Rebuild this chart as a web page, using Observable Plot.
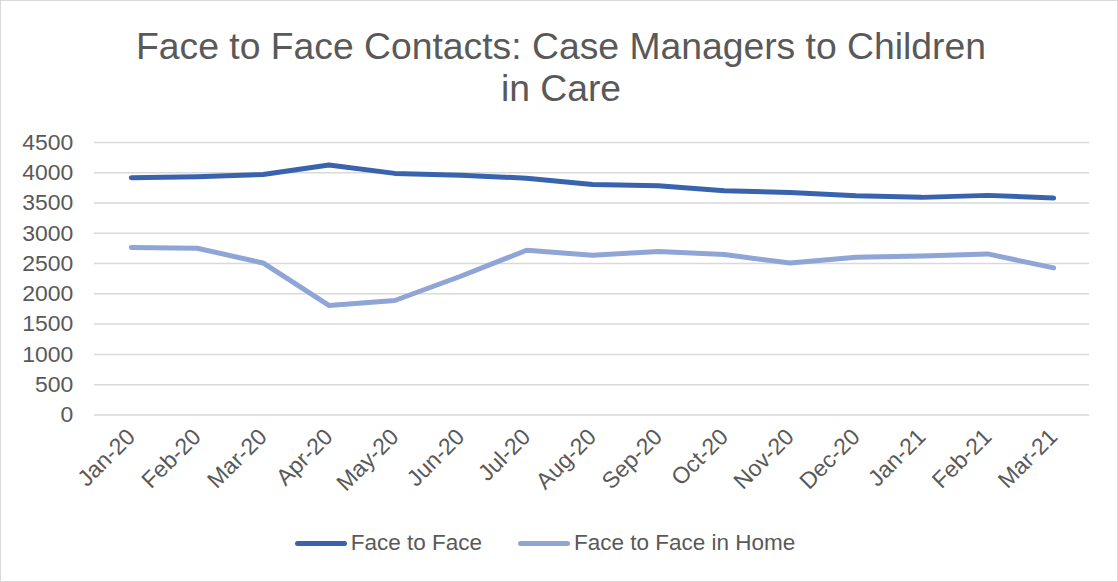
<!DOCTYPE html>
<html>
<head>
<meta charset="utf-8">
<script src="https://cdn.jsdelivr.net/npm/d3@7"></script>
<script src="https://cdn.jsdelivr.net/npm/@observablehq/plot@0.6"></script>
<style>
  html, body { margin: 0; padding: 0; background: #fff; }
  #frame { position: relative; width: 1116px; height: 580px; border: 1px solid #d9d9d9; overflow: hidden; font-family: "Liberation Sans", Arial, sans-serif; color: #595959; }
  #title { position: absolute; left: 0; top: 24px; width: 1120px; text-align: center; font-size: 37.3px; line-height: 42px; }
  #chart { position: absolute; left: 0; top: 110px; }
  #legend { position: absolute; left: 0; top: 529px; width: 1088px; display: flex; justify-content: center; font-size: 22.5px; align-items: center; }
  .item { display: flex; align-items: center; margin: 0 18px; }
  .swatch { width: 52px; height: 5px; border-radius: 3px; margin-right: 4px; }
</style>
</head>
<body>
<div id="frame">
  <div id="title">Face to Face Contacts: Case Managers to Children<br>in Care</div>
  <div id="chart"></div>
  <div id="legend"></div>
</div>
<script>
const months = ["Jan-20","Feb-20","Mar-20","Apr-20","May-20","Jun-20","Jul-20","Aug-20","Sep-20","Oct-20","Nov-20","Dec-20","Jan-21","Feb-21","Mar-21"];
const faceToFace = [3918,3934,3972,4126,3989,3960,3910,3807,3785,3703,3675,3620,3593,3626,3582];
const faceToFaceInHome = [2764,2753,2510,1808,1890,2290,2720,2637,2700,2648,2510,2604,2626,2659,2428];
const seriesNames = ["Face to Face","Face to Face in Home"];
const seriesColors = ["#3a63ad","#8fa5d6"];
const yTicks = [0,500,1000,1500,2000,2500,3000,3500,4000,4500];

const data = [];
months.forEach((m, i) => {
  data.push({month: m, value: faceToFace[i], series: seriesNames[0]});
  data.push({month: m, value: faceToFaceInHome[i], series: seriesNames[1]});
});

const chart = Plot.plot({
  width: 1118,
  height: 400,
  marginLeft: 93,
  marginRight: 28,
  marginTop: 31,
  marginBottom: 96,
  style: { fontFamily: "'Liberation Sans', Arial, sans-serif", fontSize: "23px", color: "#595959", background: "transparent" },
  x: { type: "point", domain: months, padding: 0.5, label: null },
  y: { domain: [0, 4500], label: null },
  color: { domain: seriesNames, range: seriesColors },
  marks: [
    Plot.ruleY(yTicks, { stroke: "#d9d9d9", strokeWidth: 1.5 }),
    Plot.axisY({ ticks: yTicks, tickFormat: d => String(d), tickSize: 0, tickPadding: 21, label: null, fontSize: 23, fill: "#595959" }),
    Plot.axisX({ tickSize: 0, tickRotate: -45, tickPadding: 18, label: null, fontSize: 23, fill: "#595959", textAnchor: "end", dx: 0 }),
    Plot.line(data, { x: "month", y: "value", z: "series", stroke: "series", strokeWidth: 5, strokeLinecap: "round", strokeLinejoin: "round" })
  ]
});
document.getElementById("chart").appendChild(chart);

const legend = document.getElementById("legend");
seriesNames.forEach((name, i) => {
  const item = document.createElement("div");
  item.className = "item";
  const sw = document.createElement("div");
  sw.className = "swatch";
  sw.style.background = seriesColors[i];
  const tx = document.createElement("span");
  tx.textContent = name;
  item.appendChild(sw);
  item.appendChild(tx);
  legend.appendChild(item);
});
</script>
</body>
</html>
